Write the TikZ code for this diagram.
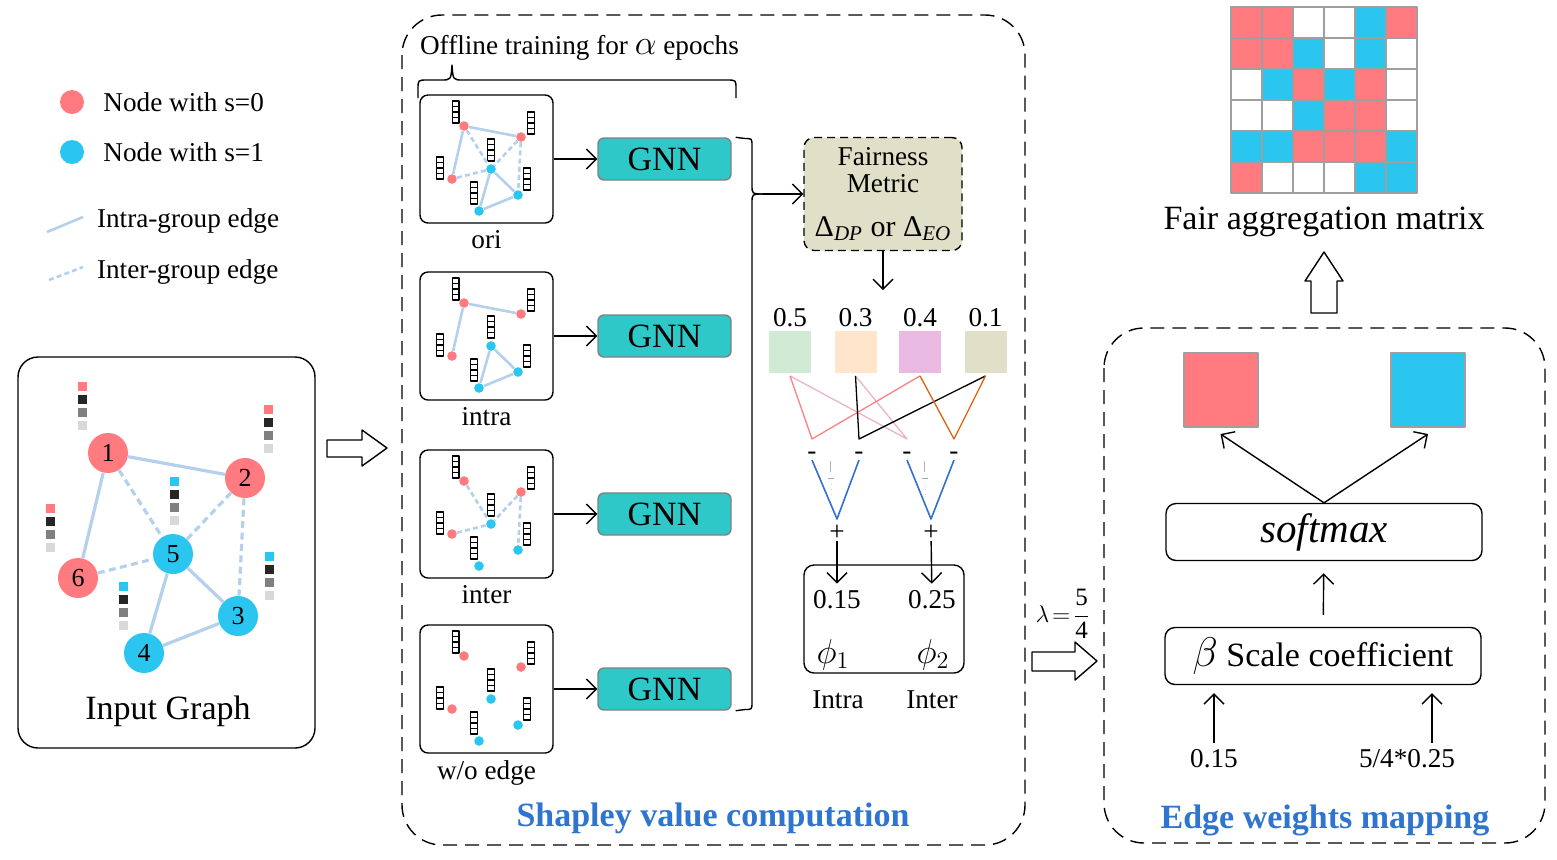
\documentclass[tikz,border=0pt]{standalone}
\usepackage{amsmath}
\usepackage{fontspec}
\setmainfont{Liberation Serif}
\usetikzlibrary{arrows.meta,
                positioning}

\definecolor{nodered}{RGB}{255,123,128}
\definecolor{nodeblue}{RGB}{43,198,240}
\definecolor{edgeblue}{RGB}{180,208,236}
\definecolor{gnnteal}{RGB}{46,200,200}
\definecolor{metricbg}{RGB}{224,224,200}
\definecolor{titleblue}{RGB}{47,117,207}
\definecolor{sqgreen}{RGB}{208,234,214}
\definecolor{sqpeach}{RGB}{255,229,204}
\definecolor{sqpink}{RGB}{232,186,226}
\definecolor{sqkhaki}{RGB}{224,224,200}
\definecolor{linered}{RGB}{255,128,128}
\definecolor{linepink}{RGB}{232,180,204}
\definecolor{lineorange}{RGB}{224,96,16}
\definecolor{vblue}{RGB}{48,112,208}
\colorlet{mr}{nodered}
\colorlet{mb}{nodeblue}
\colorlet{mw}{white}

\tikzset{
        txt/.style={font=\fontsize{13.6}{15}\selectfont},
        bigtxt/.style={font=\fontsize{17}{19}\selectfont},
        ttl/.style={font=\fontsize{17}{19}\selectfont\bfseries, text=titleblue},
        gnode/.style={circle, inner sep=0pt, minimum size=20pt,
                      font=\fontsize{13}{13}\selectfont},
        ldot/.style={circle, inner sep=0pt, minimum size=12pt},
        sdot/.style={circle, inner sep=0pt, minimum size=4.8pt},
        intra/.style={edgeblue, line width=1.6pt},
        inter/.style={edgeblue, line width=1.6pt, dash pattern=on 3.5pt off 2.2pt},
        sintra/.style={edgeblue, line width=1.3pt},
        sinter/.style={edgeblue, line width=1.3pt, dash pattern=on 2.5pt off 1.6pt},
        mbox/.style={draw, rounded corners=4pt, line width=0.7pt,
                     minimum width=66.5pt, minimum height=64pt},
        gnn/.style={draw=gray, fill=gnnteal, rounded corners=3pt, line width=0.7pt,
                    minimum width=66.5pt, minimum height=21pt, inner sep=0pt, bigtxt},
        metric/.style={draw, fill=metricbg, rounded corners=5pt, line width=0.7pt,
                       dash pattern=on 4pt off 2.5pt, align=center, inner sep=0pt,
                       minimum width=79pt, minimum height=56.5pt, txt},
        rbox/.style={draw, rounded corners=5pt, line width=0.7pt},
        sq/.style={inner sep=0pt, minimum size=21pt},
        wsq/.style={draw=gray!75, line width=1pt, inner sep=0pt, minimum size=37pt},
        arr/.style={-{Straight Barb[length=5pt,width=10pt]}, line width=0.7pt},
        hollow/.style={draw, line width=0.7pt, fill=white},
        dashbox/.style={line width=0.7pt, dash pattern=on 7pt off 4pt, rounded corners=20pt},
        cross/.style={line width=0.65pt},
 }

% feature column of the input graph
\newcommand{\featcol}[3]{%
  \fill[#3] (#1-4.5,#2-4.5) rectangle ++(9,9);
  \fill[black!85] (#1-4.5,#2+8.5) rectangle ++(9,9);
  \fill[black!50] (#1-4.5,#2+21.5) rectangle ++(9,9);
  \fill[black!15] (#1-4.5,#2+34.5) rectangle ++(9,9);
}
% feature bar of the small graphs
\newcommand{\featbar}[2]{%
  \draw[line width=0.65pt, fill=white] (#1-3.2,#2) rectangle (#1+3.2,#2+22);
  \foreach \k in {1,2,3} {\draw[line width=0.65pt] (#1-3.2,#2+5.5*\k) -- (#1+3.2,#2+5.5*\k);}
}

\begin{document}
\begin{tikzpicture}[x=0.5pt, y=-0.5pt, line join=round]
    \useasboundingbox (0,0) rectangle (1557,859);

    % legend
    \node[ldot, fill=nodered] (lr) at (72,102) {};
    \node[txt, right=6pt of lr] (lrt) {Node with s=0};
    \node[ldot, fill=nodeblue] (lb) at (72,152) {};
    \node[txt, right=6pt of lb] (lbt) {Node with s=1};
    \coordinate (la1) at (47,232);
    \coordinate (la2) at (83,217);
    \draw[sintra] (la1) -- (la2);
    \node[txt, anchor=west] (lat) at (90,221) {Intra-group edge};
    \coordinate (le1) at (49,280);
    \coordinate (le2) at (83,267);
    \draw[sinter] (le1) -- (le2);
    \node[txt, anchor=west] (let) at (90,272) {Inter-group edge};

    % input graph
    \node[draw, rounded corners=10pt, line width=0.7pt, minimum width=148.5pt,
          minimum height=195.5pt] (inbox) at (166.5,552.5) {};
    \featcol{82}{386}{nodered}
    \featcol{268}{409}{nodered}
    \featcol{174}{481}{nodeblue}
    \featcol{50}{508}{nodered}
    \featcol{269}{556}{nodeblue}
    \featcol{123}{586}{nodeblue}
    \node[gnode, fill=nodered] (n1) at (108,453) {1};
    \node[gnode, fill=nodered] (n2) at (245,478) {2};
    \node[gnode, fill=nodeblue] (n5) at (173,554) {5};
    \node[gnode, fill=nodered] (n6) at (78,578) {6};
    \node[gnode, fill=nodeblue] (n3) at (238,616) {3};
    \node[gnode, fill=nodeblue] (n4) at (144,653) {4};
    \draw[intra] (n1) -- (n2) (n1) -- (n6) (n5) -- (n3) (n5) -- (n4) (n4) -- (n3);
    \draw[inter] (n1) -- (n5) (n2) -- (n5) (n2) -- (n3) (n6) -- (n5);
    \node[bigtxt] (inlab) at (168,711) {Input Graph};

    \draw[hollow] (327,440) -- (362,440) -- (362,430) -- (387,448) -- (362,466)
                  -- (362,457) -- (327,457) -- cycle;

    % Shapley value computation
    \draw[dashbox] (402,15) rectangle (1025,845);
    \node[txt, anchor=west] (offl) at (413,48)
        {Offline training for {\fontsize{16}{16}\selectfont$\alpha$} epochs};
    \draw[line width=0.7pt] (418,98) -- (418,89) .. controls (418,80) .. (427,80)
        -- (441,80) .. controls (451,80) .. (452,65) .. controls (453,80) .. (463,80)
        -- (727,80) .. controls (736,80) .. (736,89) -- (736,98);

    \foreach \g/\yy/\lab in {o/95/ori, a/272/intra, e/450/inter, w/625/{w/o edge}} {
      \begin{scope}[shift={(420,\yy)}]
        \node[mbox] (\g bx) at (66.5,64) {};
        \featbar{35.7}{6}
        \featbar{111}{17}
        \featbar{71}{44}
        \featbar{20}{62}
        \featbar{107}{73}
        \featbar{54}{87}
        \node[sdot, fill=nodered] (\g1) at (44,31) {};
        \node[sdot, fill=nodered] (\g2) at (101,42) {};
        \node[sdot, fill=nodeblue] (\g5) at (71,74) {};
        \node[sdot, fill=nodered] (\g6) at (32,84) {};
        \node[sdot, fill=nodeblue] (\g3) at (98,100) {};
        \node[sdot, fill=nodeblue] (\g4) at (59,116) {};
      \end{scope}
      \node[txt, below=0pt of \g bx] (\g lab) {\lab};
    }
    \foreach \g in {o,a}
      \draw[sintra] (\g1) -- (\g2) (\g1) -- (\g6) (\g5) -- (\g3) (\g5) -- (\g4) (\g4) -- (\g3);
    \foreach \g in {o,e}
      \draw[sinter] (\g1) -- (\g5) (\g2) -- (\g5) (\g2) -- (\g3) (\g6) -- (\g5);

    \foreach \yy [count=\i] in {159,336,514,689}
      \node[gnn] (gnn\i) at (664.5,\yy) {GNN};
    \foreach \g [count=\i] in {o,a,e,w}
      \draw[arr] (\g bx) -- (gnn\i);

    \node[metric] (fm) at (883,194) {Fairness\\[-1.5pt]Metric\\[7pt]%
        {\fontsize{15}{15}\selectfont Δ\textsubscript{\textit{DP}} or Δ\textsubscript{\textit{EO}}}};
    \coordinate (bmid) at (763,194);
    \draw[line width=0.7pt] ([xshift=2pt]gnn1.north east) -- (745,138.5)
        .. controls (752,138.5) .. (752,146) -- (752,185) .. controls (752,194) .. (bmid);
    \draw[line width=0.7pt] ([xshift=2pt]gnn4.south east) -- (745,709.5)
        .. controls (752,709.5) .. (752,702) -- (752,203) .. controls (752,194) .. (bmid);
    \draw[arr] (bmid) -- (fm);
    \coordinate (fmend) at (883,290);
    \draw[arr] (fm) -- (fmend);

    \foreach \v/\xx/\cl [count=\i] in {0.5/790/sqgreen, 0.3/855.5/sqpeach,
                                       0.4/920/sqpink, 0.1/985.5/sqkhaki} {
      \node[sq, fill=\cl] (sq\i) at (\xx,351.5) {};
      \node[txt] (val\i) at (\xx,318) {\v};
      \coordinate (t\i) at ([yshift=-1.5pt]sq\i.south);
    }
    \foreach \xx [count=\i] in {812,859,907,954} {
      \coordinate (m\i) at (\xx,439);
      \node[txt, inner sep=0pt] (mi\i) at (\xx,456) {-};
    }
    \draw[cross, linepink] (t1) -- (m3) -- (t2);
    \draw[cross, linered] (t1) -- (m1) -- (t3);
    \draw[cross, black] (t2) -- (m2) -- (t4);
    \draw[cross, lineorange] (t3) -- (m4) -- (t4);

    \node[txt, inner sep=0pt] (pl1) at (837,533) {+};
    \node[txt, inner sep=0pt] (pl2) at (931,533) {+};
    \coordinate (vb1) at (837,519);
    \coordinate (vb2) at (931,519);
    \draw[line width=0.8pt, vblue] (812,460) -- (vb1) -- (859,460);
    \draw[line width=0.8pt, vblue] (907,460) -- (vb2) -- (954,460);
    \foreach \xx in {830,924} {
      \draw[gray!60, line width=0.4pt] (\xx,461) -- (\xx,472);
      \draw[gray!70, line width=0.5pt] (\xx-2,478) -- (\xx+4,478);
      \draw[gray!35, line width=0.4pt, dotted] (\xx+1,484) -- (\xx+1,497);
    }

    \node[rbox, minimum width=80pt, minimum height=54pt] (res) at (884,619) {};
    \node[txt] (v1) at (837,600) {0.15};
    \node[txt] (v2) at (932,600) {0.25};
    \node[bigtxt] (p1) at (833,655) {$\phi_1$};
    \node[bigtxt] (p2) at (933,655) {$\phi_2$};
    \node[txt] (intra) at (838,700) {Intra};
    \node[txt] (inter) at (932,700) {Inter};
    \draw[arr] (pl1) -- (v1);
    \draw[arr] (pl2) -- (v2);

    \node[ttl] (shap) at (713,818) {Shapley value computation};

    % lambda and arrow
    \node[font=\fontsize{12.5}{13}\selectfont, inner sep=0pt] (lam) at (1063,614)
        {$\lambda\!=\!\dfrac{\mbox{5}}{\mbox{4}}$};
    \draw[hollow] (1032,652) -- (1075,652) -- (1075,642) -- (1097,661) -- (1075,680)
                  -- (1075,671) -- (1032,671) -- cycle;

    % Edge weights mapping
    \draw[dashbox] (1104,328) rectangle (1545,843);
    \node[wsq, fill=nodered] (wr) at (1220.5,390) {};
    \node[wsq, fill=nodeblue] (wb) at (1428,390) {};
    \node[rbox, minimum width=158pt, minimum height=28.5pt,
          font=\fontsize{20.5}{22}\selectfont\itshape] (smax) at (1324,532) {softmax};
    \node[rbox, minimum width=158pt, minimum height=28.5pt, bigtxt] (scl) at (1323,656)
        {{\fontsize{22}{22}\selectfont$\beta$} Scale coefficient};
    \draw[arr] (smax.north) -- ([yshift=-3pt]wr.south);
    \draw[arr] (smax.north) -- ([yshift=-3pt]wb.south);
    \draw[arr, shorten <=6pt, shorten >=6pt] (scl) -- (smax);
    \node[txt] (w1) at (1214,759) {0.15};
    \node[txt] (w2) at (1407,759) {5/4*0.25};
    \draw[arr, shorten >=4pt] (w1.north) -- (w1.north |- scl.south);
    \draw[arr, shorten >=4pt] ([xshift=12.5pt]w2.north) -- ([xshift=12.5pt]w2.north |- scl.south);
    \node[ttl] (ewm) at (1325,820) {Edge weights mapping};

    % fair aggregation matrix
    \draw[hollow] (1311,313) -- (1311,281) -- (1305,281) -- (1324,252) -- (1343,281)
                  -- (1337,281) -- (1337,313) -- cycle;
    \node[bigtxt] (fam) at (1324,222) {Fair aggregation matrix};
    \foreach \row [count=\r] in {{mr,mr,mw,mw,mb,mr},{mr,mr,mb,mw,mb,mw},
                                 {mw,mb,mr,mb,mr,mw},{mw,mw,mb,mr,mr,mw},
                                 {mb,mb,mr,mr,mr,mb},{mr,mw,mw,mw,mb,mb}}
      \foreach \cc [count=\c] in \row
        \draw[draw=gray!75, line width=1pt, fill=\cc] (1200+31*\c,-24+31*\r) rectangle ++(31,31);
\end{tikzpicture}
\end{document}
